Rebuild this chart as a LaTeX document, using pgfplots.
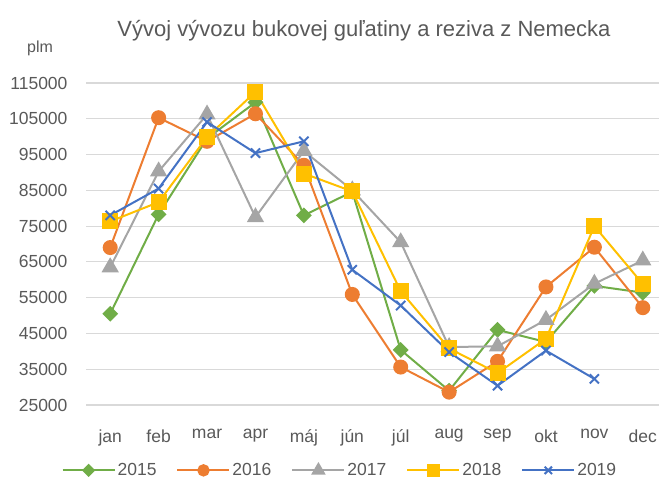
\documentclass[border=0pt]{standalone}
\usepackage{fontspec}
\setmainfont{Liberation Sans}
\usepackage{pgfplots}
\pgfplotsset{compat=1.18}
\definecolor{cg}{HTML}{70AD47}
\definecolor{co}{HTML}{ED7D31}
\definecolor{cgr}{HTML}{A5A5A5}
\definecolor{cy}{HTML}{FFC000}
\definecolor{cb}{HTML}{4472C4}
\definecolor{txt}{HTML}{595959}
\definecolor{grd}{HTML}{D9D9D9}
\begin{document}
\begin{tikzpicture}
\useasboundingbox (0pt,0pt) rectangle (659pt,481pt);
\node[font=\fontsize{22}{26}\selectfont, text=txt] at (364pt,450pt) {Vývoj vývozu bukovej guľatiny a reziva z Nemecka};
\node[font=\fontsize{16}{19}\selectfont, text=txt] at (40pt,433pt) {plm};
\begin{axis}[
  at={(86pt,76pt)}, anchor=south west, scale only axis,
  width=581pt, height=322pt,
  xmin=-0.5, xmax=11.5, ymin=25000, ymax=115000,
  scaled y ticks=false,
  ytick={25000,35000,45000,55000,65000,75000,85000,95000,105000,115000},
  yticklabels={25000,35000,45000,55000,65000,75000,85000,95000,105000,115000},
  xtick={0,1,2,3,4,5,6,7,8,9,10,11},
  xticklabels={jan,feb,mar,apr,máj,jún,júl,aug,sep,okt,nov,dec},
  ymajorgrids, major grid style={color=grd, line width=1.1pt},
  axis line style={draw=none}, major tick length=0,
  ticklabel style={font=\fontsize{17.5}{20}\selectfont, text=txt},
  yticklabel style={xshift=-15pt},
  xticklabel style={yshift=-21pt},
  clip=false,
  every axis plot/.append style={line width=2pt},
  legend columns=5,
  legend style={at={(0.437,-0.203)}, anchor=center, draw=none, fill=none,
    font=\fontsize{17.5}{20}\selectfont, text=txt,
    /tikz/every even column/.append style={column sep=18pt}},
  legend image code/.code={\draw[mark repeat=2,mark phase=2,every mark/.append style={scale=0.8}] plot coordinates {(0pt,0pt)(26pt,0pt)(52pt,0pt)};},
]
\addplot[color=cg, mark=square*, mark size=4.6pt, mark options={rotate=45}] coordinates {
(0,50500)(1,78300)(2,99500)(3,109600)(4,78000)(5,84600)(6,40400)(7,29000)(8,46000)(9,42600)(10,58300)(11,56400)};
\addlegendentry{2015}
\addplot[color=co, mark=*, mark size=6.5pt] coordinates {
(0,69000)(1,105300)(2,98700)(3,106400)(4,92000)(5,55900)(6,35600)(7,28600)(8,37200)(9,58000)(10,69100)(11,52200)};
\addlegendentry{2016}
\addplot[color=cgr, mark=triangle*, mark size=8pt] coordinates {
(0,63500)(1,90300)(2,106200)(3,77500)(4,96000)(5,85000)(6,70500)(7,41200)(8,41400)(9,48800)(10,58900)(11,65400)};
\addlegendentry{2017}
\addplot[color=cy, mark=square*, mark size=7pt] coordinates {
(0,76300)(1,81700)(2,99900)(3,112500)(4,89700)(5,84700)(6,56800)(7,40800)(8,33900)(9,43500)(10,75000)(11,58800)};
\addlegendentry{2018}
\addplot[color=cb, mark=x, mark size=6.5pt] coordinates {
(0,78000)(1,85500)(2,104100)(3,95400)(4,98700)(5,62800)(6,52800)(7,39800)(8,30400)(9,40200)(10,32300)};
\addlegendentry{2019}
\end{axis}
\end{tikzpicture}
\end{document}
